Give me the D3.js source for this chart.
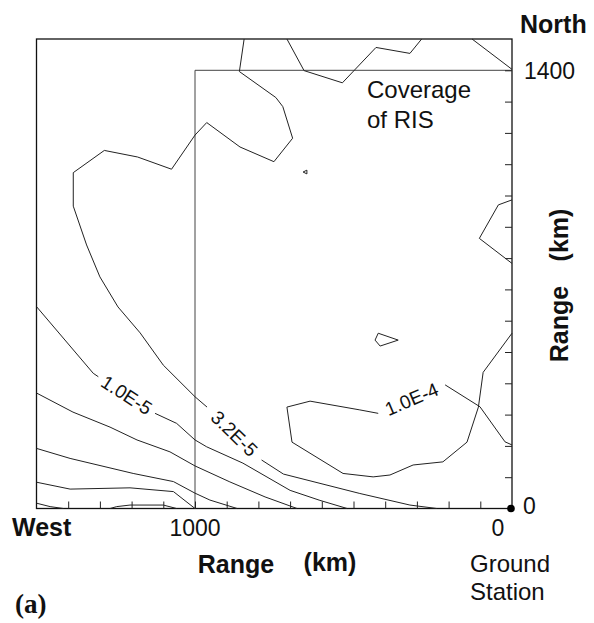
<!DOCTYPE html>
<html lang="en">
<head>
<meta charset="UTF-8">
<title>Coverage of RIS</title>
<script src="https://cdn.jsdelivr.net/npm/d3@7"></script>
<style>
  body { margin: 0; background: #fff; }
  text { font-family: "Liberation Sans", Arial, sans-serif; fill: #111; }
</style>
</head>
<body>
<script>
  // tick positions (km) along both range axes
  var xTicks = d3.range(100, 1500, 100);
  var yTicks = d3.range(100, 1500, 100);
  var risWest = 1000, risNorth = 1400;

  // contour pieces as [km west, km north]; labelled contours are split where the label sits
  var c10e5 = [
    [[1500,645],[1321,432],[1305,421]],
    [[1126,304],[1058,272],[1000,219],[963,197],[849,145],[700,58],[606,26],[520,0]]
  ];
  var c32e5 = [
    [[845,1500],[860,1396],[745,1313],[723,1284],[692,1183],[751,1108],[858,1155],[963,1233],
     [1000,1193],[1074,1084],[1181,1123],[1286,1144],[1384,1073],[1384,966],[1342,842],
     [1300,740],[1243,644],[1173,561],[1100,458],[1000,357],[962,324]],
    [[790,155],[721,110],[480,48],[322,11],[237,0]]
  ];
  var c10e4 = [
    [[0,203],[22,213],[101,325],[211,395]],
    [[422,304],[480,315],[637,343],[710,324],[694,212],[533,112],[438,101],[385,107],
     [312,139],[218,149],[142,212],[106,324],[91,435],[0,560]]
  ];
  // unlabelled contours
  var others = [
    [[1500,369],[1385,308],[1268,260],[1183,219],[1079,181],[1000,136],[890,85],[779,37],[678,0]],
    [[1500,192],[1394,160],[1195,112],[1068,86],[1000,49],[953,27],[867,0]],
    [[1500,84],[1394,62],[1205,66],[1068,54],[1000,0]],
    [[1500,17],[1457,6],[1415,0]],
    [[1268,0],[1247,6],[1205,11],[1100,11],[1058,0]],
    [[710,1500],[656,1399],[535,1360],[429,1473],[322,1454],[285,1500]],
    [[126,1500],[0,1403]],
    [[0,986],[43,970],[103,863],[0,783]],
    [[432,538],[422,560],[359,538],[416,519],[432,538]],
    [[659,1075],[647,1081],[647,1069],[659,1075]]
  ];
  var labelled = [
    {text: '1.0E-5', parts: c10e5},
    {text: '3.2E-5', parts: c32e5},
    {text: '1.0E-4', parts: c10e4}
  ];

  var W = 594, H = 623;
  var svg = d3.select('body').append('svg').attr('width', W).attr('height', H);

  var x = d3.scaleLinear().domain([1500, 0]).range([36.5, 512]);
  var y = d3.scaleLinear().domain([0, 1500]).range([508.5, 39]);

  var line = d3.line().x(function(d){ return x(d[0]); }).y(function(d){ return y(d[1]); });

  // frame
  svg.append('rect')
    .attr('x', x(1500)).attr('y', y(1500))
    .attr('width', x(0) - x(1500)).attr('height', y(0) - y(1500))
    .attr('fill', 'none').attr('stroke', '#111').attr('stroke-width', 1.3);

  // coverage of RIS
  svg.append('path')
    .attr('d', line([[risWest, 0], [risWest, risNorth], [0, risNorth]]))
    .attr('fill', 'none').attr('stroke', '#444').attr('stroke-width', 1);

  // inward ticks
  var bottom = svg.append('g').attr('transform', 'translate(0,' + y(0) + ')')
    .call(d3.axisBottom(x).tickValues(xTicks).tickSize(-7).tickFormat(''));
  var right = svg.append('g').attr('transform', 'translate(' + x(0) + ',0)')
    .call(d3.axisRight(y).tickValues(yTicks).tickSize(-7).tickFormat(''));
  [bottom, right].forEach(function(g){
    g.select('.domain').remove();
    g.selectAll('line').attr('stroke', '#222').attr('stroke-width', 1);
  });

  // contours
  var all = others.slice();
  labelled.forEach(function(c){ all = all.concat(c.parts); });
  svg.append('g').selectAll('path').data(all).enter().append('path')
    .attr('d', line)
    .attr('fill', 'none').attr('stroke', '#222').attr('stroke-width', 1);

  // contour labels in the gaps
  labelled.forEach(function(c){
    var a = c.parts[0][c.parts[0].length - 1], b = c.parts[1][0];
    var ax = x(a[0]), ay = y(a[1]), bx = x(b[0]), by = y(b[1]);
    if (bx < ax) { var t = ax; ax = bx; bx = t; t = ay; ay = by; by = t; }
    var ang = Math.atan2(by - ay, bx - ax) * 180 / Math.PI;
    svg.append('text')
      .attr('transform', 'translate(' + (ax + bx) / 2 + ',' + (ay + by) / 2 + ') rotate(' + ang + ')')
      .attr('text-anchor', 'middle').attr('dy', '0.35em')
      .style('font-size', '19px')
      .text(c.text);
  });

  // ground station
  svg.append('circle').attr('cx', x(0) - 1).attr('cy', y(0)).attr('r', 3.8).attr('fill', '#000');

  // texts
  function label(t, px, py, size, opts) {
    opts = opts || {};
    return svg.append('text').attr('x', px).attr('y', py)
      .attr('text-anchor', opts.anchor || 'start')
      .style('font-size', size + 'px')
      .style('font-weight', opts.bold ? 'bold' : 'normal')
      .style('font-family', opts.family || null)
      .text(t);
  }
  label('North', 520, 33, 25, {bold: true});
  label('1400', 524, y(1400) + 9, 23);
  label('0', 523, y(0) + 5, 23);
  label('West', 12, 536, 25, {bold: true});
  label('1000', x(1000), 536, 23, {anchor: 'middle'});
  label('0', x(0) - 14, 536, 23, {anchor: 'middle'});
  label('Range', 236, 573, 25, {bold: true, anchor: 'middle'});
  label('(km)', 330, 571, 25, {bold: true, anchor: 'middle'});
  label('Ground', 470, 572, 24);
  label('Station', 470, 600, 24);
  label('(a)', 15, 613, 27, {bold: true, family: '"Liberation Serif", "Times New Roman", serif'});
  label('Coverage', 367, 98, 24);
  label('of RIS', 367, 128, 24);

  svg.append('text').attr('transform', 'translate(568,324) rotate(-90)')
    .attr('text-anchor', 'middle').style('font-size', '25px').style('font-weight', 'bold').text('Range');
  svg.append('text').attr('transform', 'translate(568,235) rotate(-90)')
    .attr('text-anchor', 'middle').style('font-size', '25px').style('font-weight', 'bold').text('(km)');
</script>
</body>
</html>
